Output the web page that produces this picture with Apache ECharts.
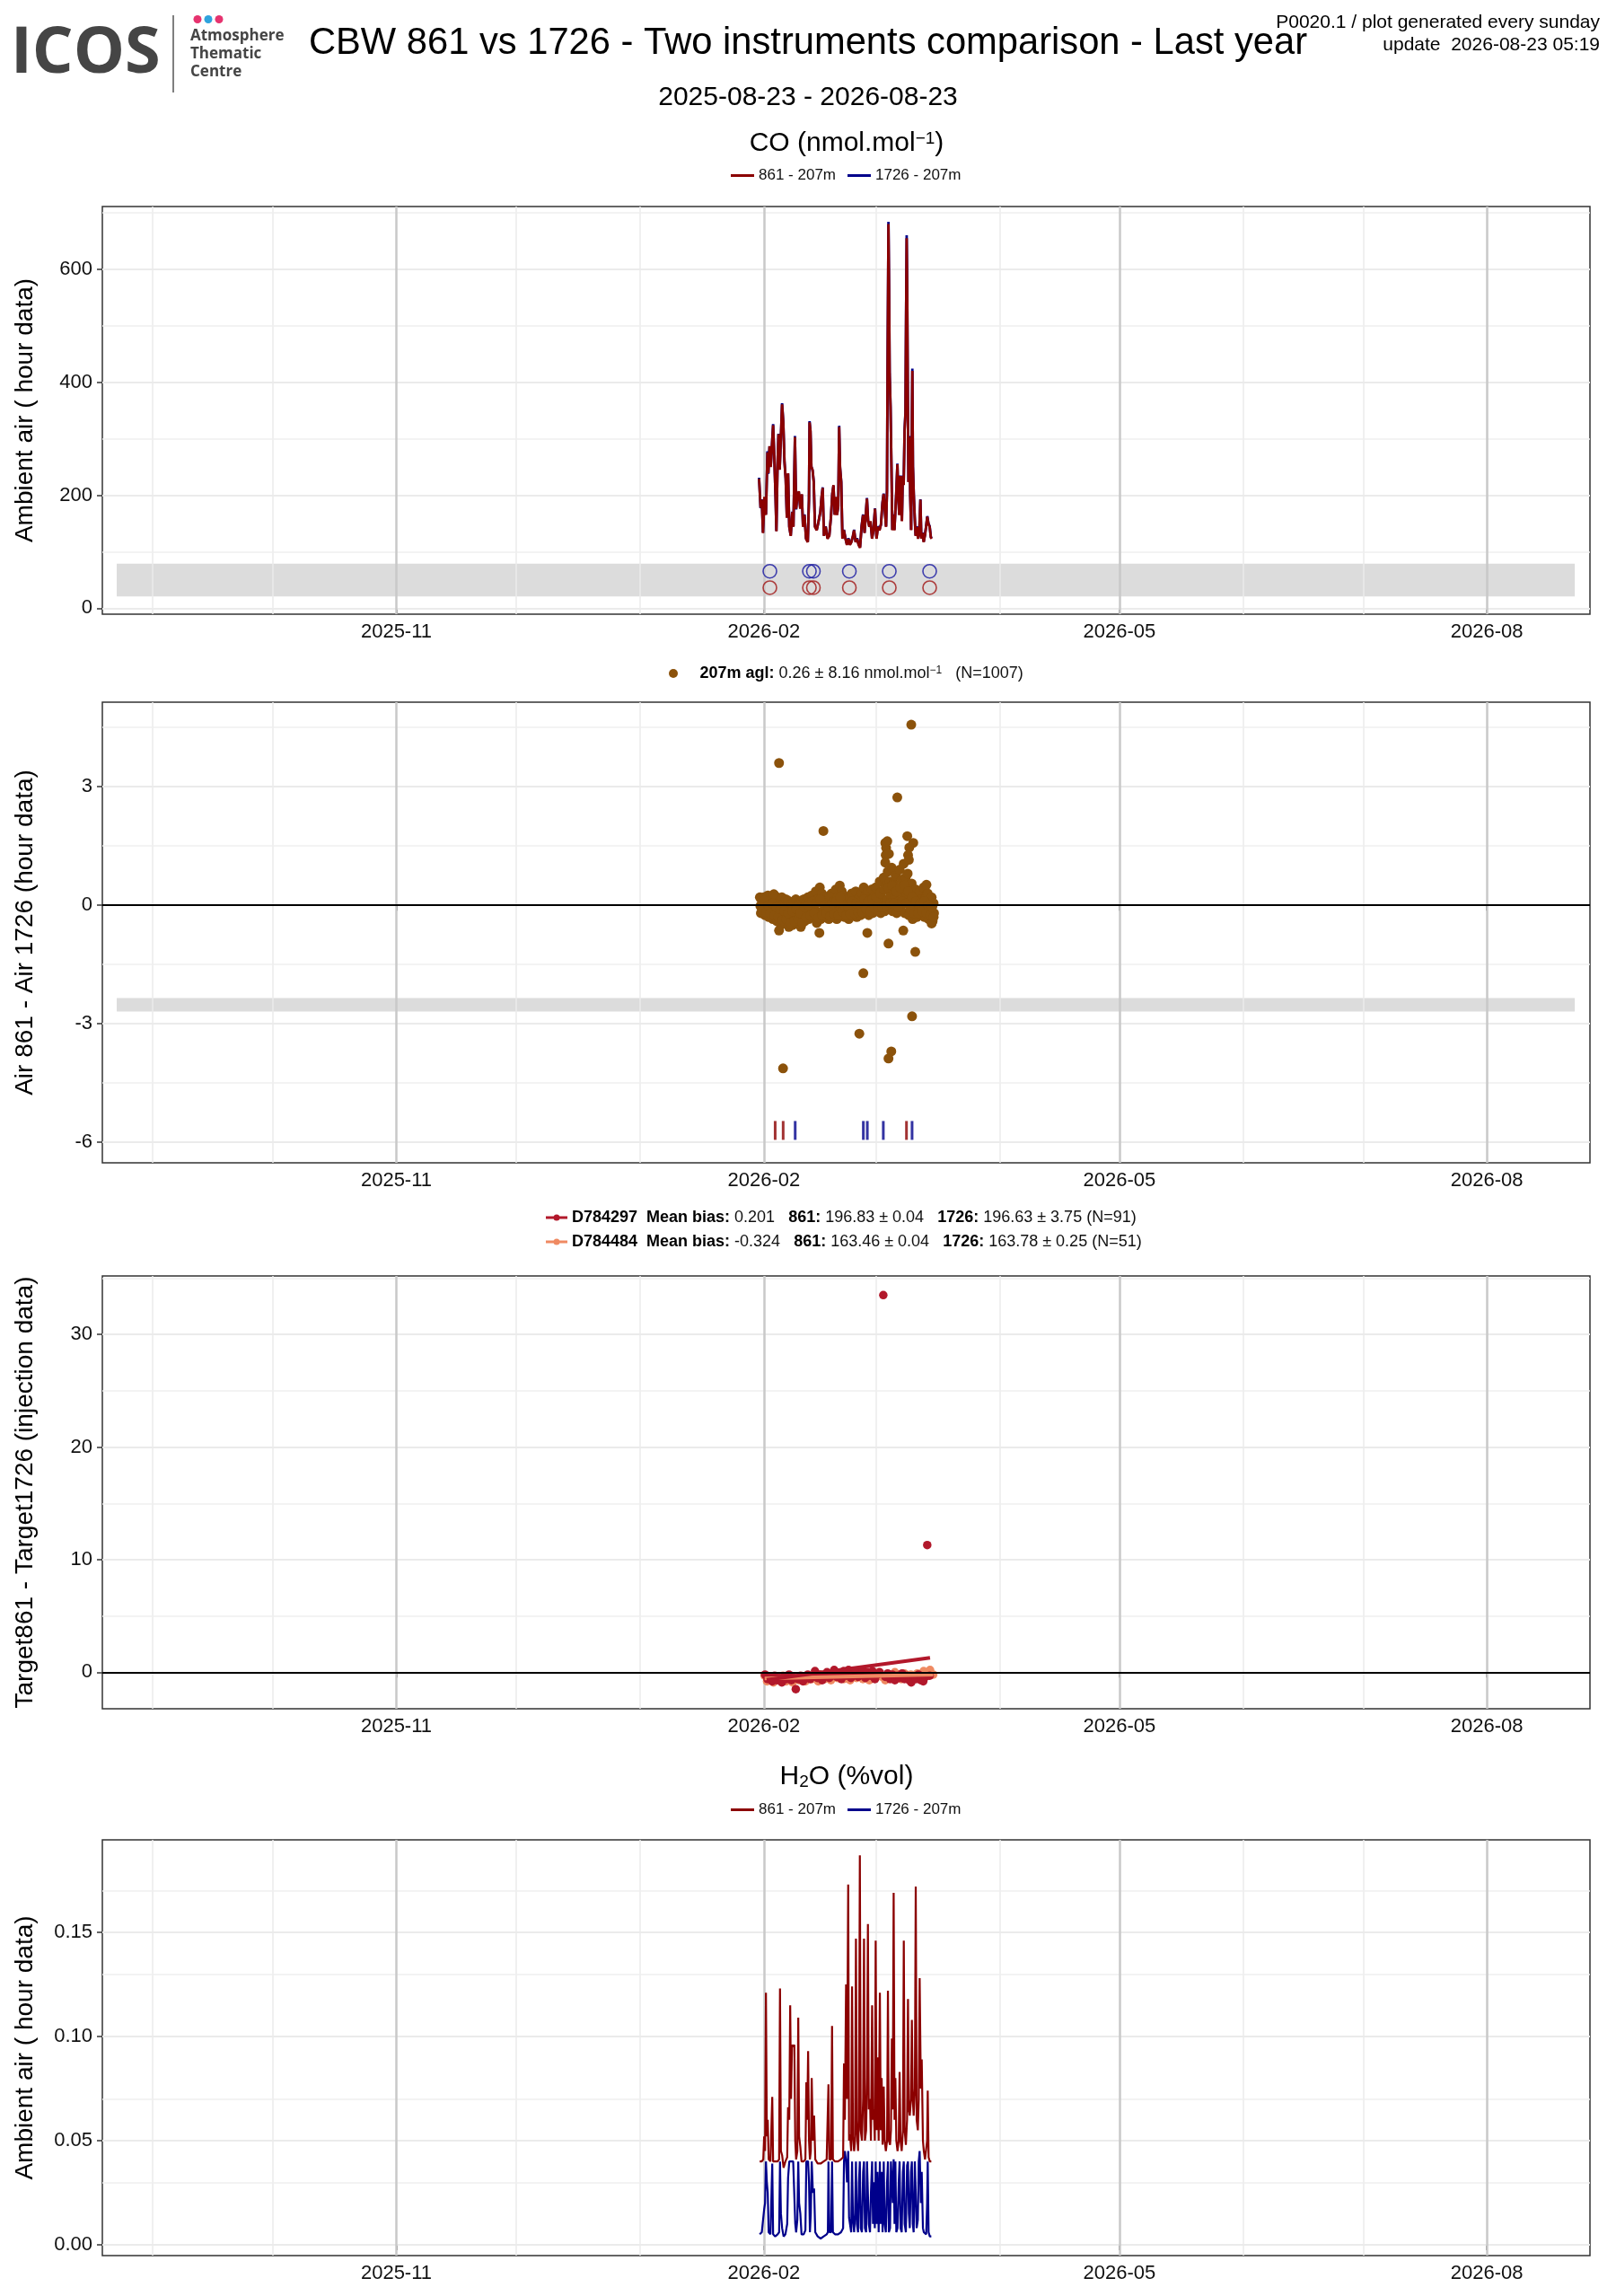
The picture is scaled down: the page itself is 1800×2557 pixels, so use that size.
<!DOCTYPE html>
<html>
<head>
<meta charset="utf-8">
<title>CBW 861 vs 1726 - Two instruments comparison</title>
<script src="https://cdn.jsdelivr.net/npm/echarts@6/dist/echarts.min.js"></script>
<style>
html, body { margin: 0; padding: 0; background: #fff; }
#chart { width: 1800px; height: 2557px; }
</style>
</head>
<body>
<div id="chart"></div>
<script>
var DAY = 86400000;
var T0 = Date.UTC(2026, 1, 1);          // day 0 of every "day" array below
function t(d) { return T0 + d * DAY; }

// x axis: major ticks every 3 months, minor grid every month
var majorBreaks = [Date.UTC(2025, 10, 1), Date.UTC(2026, 1, 1), Date.UTC(2026, 4, 1), Date.UTC(2026, 7, 1)];
var minorBreaks = [Date.UTC(2025, 8, 1), Date.UTC(2025, 9, 1), Date.UTC(2025, 11, 1), Date.UTC(2026, 0, 1),
                   Date.UTC(2026, 2, 1), Date.UTC(2026, 3, 1), Date.UTC(2026, 5, 1), Date.UTC(2026, 6, 1)];
var periodStart = Date.UTC(2025, 7, 23), periodEnd = Date.UTC(2026, 7, 23);
var xMin = t(-165.6), xMax = t(206.8);

var yRanges = [[-10.5, 711], [-6.52, 5.14], [-3.24, 35.2], [-0.0052, 0.1944]];
var yMajor = [[0, 200, 400, 600], [-6, -3, 0, 3], [0, 10, 20, 30], [0, 0.05, 0.10, 0.15]];
var yMinor = [[100, 300, 500, 700], [-4.5, -1.5, 1.5, 4.5], [5, 15, 25, 35], [0.025, 0.075, 0.125, 0.175]];
var yTitles = ['Ambient air ( hour data)', 'Air 861 - Air 1726 (hour data)',
               'Target861 - Target1726 (injection data)', 'Ambient air ( hour data)'];

// ---- CO ambient air, hour data (days since 2026-02-01) ----
var coDay = [
  -1.20,-0.82,-0.52,-0.22,0.15,0.52,0.90,1.12,1.42,1.72,
  2.02,2.32,2.62,2.92,3.14,3.44,3.66,3.96,4.26,4.56,
  4.86,5.16,5.46,5.76,6.06,6.36,6.73,7.11,7.40,7.78,
  8.08,8.38,8.75,9.12,9.50,9.80,10.17,10.55,11.00,11.29,
  11.44,11.67,11.89,12.19,12.49,12.79,13.24,13.69,14.14,14.44,
  14.73,15.03,15.48,15.93,16.38,16.83,17.13,17.43,17.73,18.03,
  18.32,18.62,18.85,19.07,19.37,19.67,20.04,20.42,20.79,21.17,
  21.54,21.91,22.29,22.59,22.96,23.34,23.71,24.08,24.46,24.83,
  25.21,25.50,25.80,26.10,26.40,26.70,27.08,27.45,27.82,28.20,
  28.57,28.95,29.32,29.69,29.99,30.29,30.59,30.82,30.96,31.19,
  31.34,31.49,31.71,31.94,32.16,32.46,32.68,32.91,33.13,33.43,
  33.66,33.88,34.11,34.33,34.56,34.78,35.00,35.23,35.45,35.60,
  35.75,35.90,36.05,36.20,36.42,36.65,36.87,37.02,37.17,37.32,
  37.55,37.77,37.99,38.29,38.59,38.89,39.19,39.42,39.72,40.01,
  40.31,40.61,40.91,41.21,41.51,41.81,42.03
];
var co861 = [
  229,178,192,133,197,165,276,239,287,250,
  287,324,266,197,136,260,308,245,303,361,
  329,260,229,160,239,144,128,170,144,303,
  176,197,207,176,202,144,165,123,117,192,
  329,314,250,245,223,144,138,154,170,197,
  213,128,144,123,128,165,202,218,165,197,
  165,181,321,250,223,123,138,123,112,123,
  112,117,128,138,117,123,112,107,144,165,
  133,165,194,154,144,154,123,138,176,123,
  144,138,149,186,202,205,144,207,414,680,
  568,414,356,250,138,165,138,170,202,255,
  197,165,234,186,154,234,218,314,345,515,
  655,542,356,223,303,197,138,303,420,250,
  197,160,128,144,123,133,192,123,133,117,
  128,144,162,149,144,125,123
];
var co1726 = [
  231,177,193,134,196,166,278,238,286,251,
  288,326,265,198,137,259,309,246,302,363,
  330,259,230,161,238,145,129,171,145,305,
  175,198,206,177,201,145,166,124,118,191,
  331,313,251,244,224,145,139,153,171,196,
  214,129,145,124,129,164,203,217,166,196,
  166,180,323,249,224,124,139,124,113,124,
  113,118,127,139,118,124,113,108,145,166,
  134,164,195,155,145,153,124,139,177,124,
  145,139,148,187,203,206,145,208,418,684,
  571,417,358,251,139,166,139,171,203,256,
  198,166,235,187,155,235,219,316,347,519,
  660,546,358,224,305,198,139,305,424,251,
  198,161,129,145,124,134,193,124,134,118,
  129,145,163,150,145,126,124
];
// flagged periods (open circles in the grey band)
var flagDay = [1.5, 11.4, 12.4, 21.4, 31.4, 41.5];
var flagLevel861 = 36.5, flagLevel1726 = 65.5;
var coBand = [21, 79];

// ---- Air 861 - Air 1726, hour data [day, diff] ----
var airDiff = [
  [-1.0,0.20],[-0.75,-0.20],[-0.5,0.05],[-0.25,-0.10],
  [0,0.20],[0.25,-0.25],[0.5,0.05],[0.75,-0.10],
  [1,0.25],[1.25,-0.30],[1.5,0.10],[1.75,-0.05],
  [2,0.15],[2.25,-0.35],[2.5,0.28],[2.75,-0.15],
  [3,0.22],[3.25,-0.40],[3.5,0.05],[3.75,-0.20],
  [4,0.10],[4.25,-0.50],[4.5,0.20],[4.75,-0.30],
  [5,0.05],[5.25,-0.45],[5.5,0.15],[5.75,-0.25],
  [6,0.12],[6.25,-0.55],[6.5,-0.05],[6.75,-0.35],
  [7,0.05],[7.25,-0.50],[7.5,0.10],[7.75,-0.30],
  [8,0.15],[8.25,-0.45],[8.5,0.00],[8.75,-0.25],
  [9,0.08],[9.25,-0.55],[9.5,0.12],[9.75,-0.35],
  [10,0.15],[10.25,-0.40],[10.5,0.05],[10.75,-0.20],
  [11,0.20],[11.25,-0.35],[11.5,0.10],[11.75,-0.15],
  [12,0.25],[12.25,-0.30],[12.5,0.05],[12.75,-0.10],
  [13,0.35],[13.25,-0.45],[13.5,0.15],[13.75,-0.20],
  [14,0.45],[14.25,-0.35],[14.5,0.30],[14.75,-0.15],
  [15,0.20],[15.25,-0.30],[15.5,0.10],[15.75,-0.05],
  [16,0.15],[16.25,-0.35],[16.5,0.25],[16.75,-0.20],
  [17,0.30],[17.25,-0.30],[17.5,0.10],[17.75,-0.10],
  [18,0.40],[18.25,-0.35],[18.5,0.20],[18.75,-0.15],
  [19,0.50],[19.25,-0.25],[19.5,0.35],[19.75,-0.05],
  [20,0.25],[20.25,-0.30],[20.5,0.10],[20.75,-0.15],
  [21,0.15],[21.25,-0.35],[21.5,0.20],[21.75,-0.10],
  [22,0.30],[22.25,-0.25],[22.5,0.05],[22.75,-0.15],
  [23,0.35],[23.25,-0.30],[23.5,0.15],[23.75,-0.05],
  [24,0.20],[24.25,-0.25],[24.5,0.30],[24.75,-0.10],
  [25,0.45],[25.25,-0.20],[25.5,0.25],[25.75,0.00],
  [26,0.35],[26.25,-0.25],[26.5,0.15],[26.75,-0.05],
  [27,0.40],[27.25,-0.20],[27.5,0.20],[27.75,0.05],
  [28,0.45],[28.25,-0.15],[28.5,0.30],[28.75,0.00],
  [29,0.60],[29.25,-0.20],[29.5,0.35],[29.75,0.10],
  [30,0.70],[30.25,-0.15],[30.5,0.50],[30.75,0.15],
  [31,0.85],[31.25,-0.10],[31.5,0.60],[31.75,0.25],
  [32,0.95],[32.25,-0.15],[32.5,0.55],[32.75,0.20],
  [33,0.75],[33.25,-0.20],[33.5,0.40],[33.75,0.10],
  [34,0.90],[34.25,-0.10],[34.5,0.65],[34.75,0.30],
  [35,1.05],[35.25,-0.20],[35.5,0.70],[35.75,0.25],
  [36,0.80],[36.25,-0.25],[36.5,0.45],[36.75,0.10],
  [37,0.55],[37.25,-0.35],[37.5,0.30],[37.75,-0.05],
  [38,0.40],[38.25,-0.30],[38.5,0.20],[38.75,-0.10],
  [39,0.35],[39.25,-0.25],[39.5,0.15],[39.75,0.00],
  [40,0.45],[40.25,-0.30],[40.5,0.20],[40.75,-0.10],
  [41,0.30],[41.25,-0.35],[41.5,0.10],[41.75,-0.15],
  [42,0.20],[42.25,-0.40],[42.5,0.05],[42.6,-0.20],
  // isolated hours
  [3.8,3.60],[4.8,-4.13],[3.8,-0.64],[13.9,-0.70],[14.9,1.88],[23.9,-3.25],
  [24.9,-1.72],[25.9,-0.70],[30.4,1.58],[30.6,1.45],[30.9,1.62],[30.5,1.27],
  [30.4,1.08],[31.3,1.30],[31.2,-0.97],[31.2,-3.88],[31.9,-3.70],[33.4,2.73],
  [34.9,-0.64],[35.9,1.75],[37.4,1.58],[36.4,1.46],[36.1,1.27],[36.3,1.15],
  [36.9,4.57],[37.1,-2.81],[37.9,-1.18],[42.0,-0.46],[40.7,0.52]
];
// the hours in between, filling the dense band
var airDiffMid = [
  [-0.875,-0.02],[-0.375,-0.12],[0.125,0.12],[0.625,-0.18],[1.125,0.00],[1.625,-0.20],[2.125,0.05],[2.625,-0.25],
  [3.125,-0.05],[3.625,-0.30],[4.125,-0.10],[4.625,-0.38],[5.125,-0.15],[5.625,-0.35],[6.125,-0.20],[6.625,-0.45],
  [7.125,-0.15],[7.625,-0.40],[8.125,-0.10],[8.625,-0.35],[9.125,-0.20],[9.625,-0.45],[10.125,-0.05],[10.625,-0.30],
  [11.125,0.00],[11.625,-0.25],[12.125,0.10],[12.625,-0.20],[13.125,0.05],[13.625,-0.32],[14.125,0.15],[14.625,-0.25],
  [15.125,0.00],[15.625,-0.20],[16.125,-0.05],[16.625,-0.28],[17.125,0.05],[17.625,-0.22],[18.125,0.10],[18.625,-0.25],
  [19.125,0.20],[19.625,-0.15],[20.125,0.00],[20.625,-0.25],[21.125,-0.05],[21.625,-0.22],[22.125,0.10],[22.625,-0.20],
  [23.125,0.05],[23.625,-0.18],[24.125,0.00],[24.625,-0.18],[25.125,0.15],[25.625,-0.10],[26.125,0.10],[26.625,-0.15],
  [27.125,0.15],[27.625,-0.08],[28.125,0.20],[28.625,-0.05],[29.125,0.30],[29.625,-0.05],[30.125,0.40],[30.625,0.00],
  [31.125,0.45],[31.625,0.05],[32.125,0.50],[32.625,0.05],[33.125,0.35],[33.625,-0.05],[34.125,0.45],[34.625,0.10],
  [35.125,0.50],[35.625,0.05],[36.125,0.35],[36.625,-0.10],[37.125,0.20],[37.625,-0.20],[38.125,0.10],[38.625,-0.20],
  [39.125,0.05],[39.625,-0.15],[40.125,0.10],[40.625,-0.20],[41.125,0.00],[41.625,-0.25],[42.125,-0.05],[42.5,-0.30]
];
var airBand = [-2.69, -2.35];
var rugDay861 = [2.83, 4.83, 35.7];
var rugDay1726 = [7.84, 24.9, 25.9, 29.9, 37.1];
var rugLevel = -5.7;

// ---- Target gases, injection data [day, diff] ----
var target297 = [
  [0.3,-0.2],[0.9,-0.6],[1.5,-0.4],[2.1,-0.8],[2.7,-0.3],[3.3,-0.7],[3.9,-0.5],[4.5,-0.9],[5.1,-0.4],[5.7,-0.6],
  [6.3,-0.2],[6.9,-0.7],[7.5,-0.5],[8.0,-1.5],[8.6,-0.6],[9.2,-0.3],[9.8,-0.8],[10.4,-0.5],[11.0,-0.2],[11.6,-0.6],
  [12.2,-0.4],[12.8,0.1],[13.4,-0.5],[14.0,-0.2],[14.6,-0.7],[15.2,-0.3],[15.8,0.0],[16.4,-0.5],[17.0,-0.2],[17.6,0.2],
  [18.2,-0.4],[18.8,-0.1],[19.4,-0.6],[20.0,0.1],[20.6,-0.3],[21.2,0.2],[21.8,-0.5],[22.4,-0.1],[23.0,0.1],[23.6,-0.4],
  [24.2,-0.2],[24.8,0.2],[25.4,-0.5],[26.0,0.0],[26.6,-0.3],[27.2,0.1],[27.8,-0.6],[28.4,-0.2],[29.0,0.0],[29.9,33.5],
  [30.4,-0.4],[31.0,-0.1],[31.6,-0.6],[32.2,-0.2],[32.8,-0.7],[33.4,-0.3],[34.0,-0.5],[34.6,-0.1],[35.2,-0.6],[35.8,-0.3],
  [36.4,-0.7],[36.9,-0.9],[37.5,-0.4],[38.1,-0.6],[38.7,-0.2],[39.3,-0.7],[39.9,-0.8],[40.5,-0.4],[40.9,11.3],[41.5,-0.3]
];
var target484 = [
  [0.2,-0.3],[0.8,-0.8],[1.6,-0.5],[2.4,-0.9],[3.2,-0.4],[4.0,-0.7],[4.8,-0.3],[5.6,-0.8],[6.4,-0.5],[7.2,-0.9],
  [8.0,-0.4],[8.8,-0.7],[9.6,-0.5],[10.4,-0.8],[11.2,-0.3],[12.0,-0.6],[12.8,-0.4],[13.6,-0.8],[14.4,-0.2],[15.2,-0.6],
  [16.0,-0.3],[16.8,-0.7],[17.6,-0.2],[18.4,-0.5],[19.2,-0.1],[20.0,-0.6],[20.8,-0.3],[21.6,-0.7],[22.4,-0.2],[23.2,-0.5],
  [24.0,-0.1],[24.8,-0.6],[25.6,-0.3],[26.4,-0.7],[27.2,-0.2],[28.0,-0.5],[28.8,0.0],[29.6,-0.4],[30.4,-0.7],[31.2,-0.2],
  [32.0,-0.5],[32.8,0.0],[33.6,-0.4],[34.4,-0.6],[35.2,-0.1],[36.0,-0.5],[36.8,-0.2],[37.6,-0.6],[38.4,-0.1],[39.2,-0.4],
  [40.0,0.1],[40.8,-0.3],[41.6,0.2],[42.4,-0.2]
];
var fit297 = [[0.7, -0.67], [41.6, 1.28]];
var fit484 = [[0.2, -0.55], [42.4, -0.2]];
var targetNames = ['D784297', 'D784484'];
var targetBias = ['0.201', '-0.324'];
var target861Stat = ['196.83 \u00b1 0.04', '163.46 \u00b1 0.04'];
var target1726Stat = ['196.63 \u00b1 3.75', '163.78 \u00b1 0.25'];
var targetN = [91, 51];

// ---- H2O ambient air, hour data ----
var h2oDay = [
  -1.05,-0.52,-0.15,0.07,0.30,0.52,0.75,0.97,1.20,1.65,
  2.10,2.32,2.84,3.44,3.82,4.04,4.27,4.57,4.94,5.39,
  5.84,6.06,6.36,6.59,6.81,7.04,7.34,7.63,7.86,8.08,
  8.38,8.61,8.83,9.13,9.43,9.96,10.40,10.63,10.85,11.08,
  11.30,11.53,11.75,11.98,12.28,12.57,12.87,13.47,14.22,14.97,
  15.72,16.02,16.17,16.39,16.84,17.07,17.29,17.81,18.56,19.31,
  19.84,20.06,20.28,20.58,20.81,21.11,21.33,21.56,21.86,22.08,
  22.31,22.60,22.83,23.05,23.28,23.58,23.80,24.03,24.25,24.55,
  24.85,25.07,25.30,25.60,25.82,26.05,26.27,26.57,26.80,27.10,
  27.32,27.54,27.77,27.99,28.22,28.44,28.74,29.04,29.27,29.49,
  29.72,30.01,30.24,30.54,30.84,31.06,31.29,31.59,31.81,32.04,
  32.26,32.49,32.71,32.93,33.16,33.46,33.76,33.98,34.21,34.51,
  34.81,35.03,35.25,35.55,35.85,36.08,36.30,36.53,36.83,37.05,
  37.28,37.50,37.80,38.02,38.25,38.55,38.77,39.00,39.30,39.52,
  39.82,40.04,40.34,40.64,40.87,41.02,41.24,41.54,41.92
];
var h2o861 = [
  .040,.040,.041,.052,.045,.121,.052,.060,.041,.040,
  .071,.040,.040,.040,.041,.123,.045,.043,.037,.040,
  .042,.066,.060,.115,.070,.096,.095,.096,.050,.041,
  .045,.109,.052,.047,.040,.040,.041,.078,.060,.093,
  .050,.041,.045,.080,.050,.062,.041,.039,.039,.040,
  .041,.041,.077,.041,.041,.105,.041,.040,.040,.041,
  .042,.087,.060,.125,.070,.173,.050,.053,.045,.124,
  .052,.045,.050,.147,.055,.045,.060,.187,.055,.050,
  .070,.147,.050,.055,.080,.154,.065,.070,.050,.115,
  .060,.065,.050,.146,.055,.090,.050,.121,.055,.080,
  .048,.076,.050,.045,.050,.122,.050,.048,.055,.099,
  .065,.169,.060,.080,.050,.045,.050,.083,.050,.045,
  .055,.146,.055,.048,.060,.118,.065,.062,.070,.108,
  .070,.062,.075,.172,.060,.055,.070,.128,.075,.089,
  .050,.045,.041,.041,.050,.074,.042,.040,.040
];
var h2o1726 = [
  .005,.006,.006,.017,.020,.040,.030,.025,.006,.005,
  .039,.005,.004,.005,.006,.040,.015,.008,.004,.005,
  .010,.032,.040,.040,.040,.040,.040,.040,.010,.006,
  .012,.040,.020,.015,.005,.005,.007,.040,.040,.040,
  .030,.006,.015,.040,.025,.027,.006,.004,.003,.004,
  .005,.006,.040,.006,.006,.040,.006,.005,.005,.006,
  .008,.040,.045,.040,.030,.045,.013,.010,.006,.040,
  .012,.006,.015,.040,.010,.006,.030,.040,.008,.006,
  .035,.040,.008,.006,.040,.040,.010,.006,.025,.040,
  .010,.030,.008,.040,.010,.035,.006,.040,.010,.035,
  .006,.040,.010,.006,.030,.040,.006,.008,.040,.040,
  .020,.041,.010,.040,.006,.008,.030,.040,.008,.006,
  .035,.040,.010,.006,.038,.040,.015,.008,.035,.040,
  .010,.006,.040,.040,.008,.012,.040,.045,.020,.035,
  .008,.006,.006,.005,.020,.040,.006,.004,.004
];

var FONT = 'Liberation Sans';
var RED = '#8B0000', BLUE = '#00008B', BROWN = '#8B520B', CRIMSON = '#B2182B', SALMON = '#EF8A62';
var grids = [
  { left: 114, top: 230, width: 1657, height: 454 },
  { left: 114, top: 782, width: 1657, height: 513 },
  { left: 114, top: 1421, width: 1657, height: 482 },
  { left: 114, top: 2049, width: 1657, height: 463 }
];

function pad2(n) { return n < 10 ? '0' + n : '' + n; }

function gridLines(i) {
  var lines = [];
  minorBreaks.forEach(function (v) { lines.push({ xAxis: v, lineStyle: { color: '#EBEBEB', width: 1.5, type: 'solid' } }); });
  yMinor[i].forEach(function (v) { lines.push({ yAxis: v, lineStyle: { color: '#EFEFEF', width: 1.5, type: 'solid' } }); });
  yMajor[i].forEach(function (v) { lines.push({ yAxis: v, lineStyle: { color: '#EBEBEB', width: 2, type: 'solid' } }); });
  majorBreaks.forEach(function (v) { lines.push({ xAxis: v, lineStyle: { color: '#C9C9C9', width: 2.5, type: 'solid' } }); });
  return {
    type: 'line', name: '_grid' + i, xAxisIndex: i, yAxisIndex: i, data: [[xMin, null]],
    symbol: 'none', silent: true, z: 2,
    markLine: { z: 2, silent: true, symbol: ['none', 'none'], label: { show: false }, animation: false, data: lines }
  };
}
function bandSeries(i, lo, hi) {
  return {
    type: 'line', name: '_band' + i, xAxisIndex: i, yAxisIndex: i, data: [[xMin, null]],
    symbol: 'none', silent: true, z: 1,
    markArea: { z: 1, silent: true, itemStyle: { color: '#DCDCDC' }, label: { show: false },
      data: [[{ xAxis: periodStart, yAxis: lo }, { xAxis: periodEnd, yAxis: hi }]] }
  };
}
function zeroLine(i) {
  return {
    type: 'line', name: '_zero' + i, xAxisIndex: i, yAxisIndex: i, data: [[xMin, null]],
    symbol: 'none', silent: true, z: 30,
    markLine: { z: 30, silent: true, symbol: ['none', 'none'], label: { show: false }, animation: false,
      data: [{ yAxis: 0, lineStyle: { color: '#000', width: 2, type: 'solid' } }] }
  };
}

// value axes holding UTC timestamps, so the month ticks can be placed exactly
var xAxes = grids.map(function (g, i) {
  return {
    type: 'value', gridIndex: i, min: xMin, max: xMax, scale: true,
    axisLine: { show: false },
    axisTick: { show: true, customValues: majorBreaks, length: 6, lineStyle: { color: '#333', width: 1.5 } },
    axisLabel: {
      customValues: majorBreaks, fontSize: 22, color: '#111', fontFamily: FONT, margin: 9,
      formatter: function (v) { var d = new Date(v); return d.getUTCFullYear() + '-' + pad2(d.getUTCMonth() + 1); }
    },
    splitLine: { show: false }
  };
});
var yAxes = grids.map(function (g, i) {
  return {
    type: 'value', gridIndex: i, min: yRanges[i][0], max: yRanges[i][1],
    name: yTitles[i], nameLocation: 'middle', nameRotate: 90, nameGap: 72,
    nameTextStyle: { fontSize: 28, color: '#000', fontFamily: FONT },
    axisLine: { show: false },
    axisTick: { show: true, customValues: yMajor[i], length: 6, lineStyle: { color: '#333', width: 1.5 } },
    axisLabel: {
      customValues: yMajor[i], fontSize: 22, color: '#111', fontFamily: FONT, margin: 11,
      formatter: function (v) { return i === 3 ? v.toFixed(2) : String(v); }
    },
    splitLine: { show: false }
  };
});

var series = [];
grids.forEach(function (g, i) { series.push(gridLines(i)); });
series.push(bandSeries(0, coBand[0], coBand[1]));
series.push(bandSeries(1, airBand[0], airBand[1]));
series.push(zeroLine(1));
series.push(zeroLine(2));

// panel 1: CO
series.push({
  name: '1726 - 207m', type: 'line', xAxisIndex: 0, yAxisIndex: 0, z: 10, symbol: 'none',
  data: coDay.map(function (d, k) { return [t(d), co1726[k]]; }),
  lineStyle: { color: BLUE, width: 2.8 }, itemStyle: { color: BLUE }
});
series.push({
  name: '861 - 207m', type: 'line', xAxisIndex: 0, yAxisIndex: 0, z: 11, symbol: 'none',
  data: coDay.map(function (d, k) { return [t(d), co861[k]]; }),
  lineStyle: { color: RED, width: 2.8 }, itemStyle: { color: RED }
});
series.push({
  name: '_flag1726', type: 'scatter', xAxisIndex: 0, yAxisIndex: 0, z: 12, symbol: 'circle', symbolSize: 15,
  data: flagDay.map(function (d) { return [t(d), flagLevel1726]; }),
  itemStyle: { color: 'rgba(0,0,0,0)', borderColor: '#1515A0', borderWidth: 1.6 }
});
series.push({
  name: '_flag861', type: 'scatter', xAxisIndex: 0, yAxisIndex: 0, z: 12, symbol: 'circle', symbolSize: 15,
  data: flagDay.map(function (d) { return [t(d), flagLevel861]; }),
  itemStyle: { color: 'rgba(0,0,0,0)', borderColor: '#A01515', borderWidth: 1.6 }
});

// panel 2: air difference
series.push({
  name: '207m agl', type: 'scatter', xAxisIndex: 1, yAxisIndex: 1, z: 10, symbolSize: 11,
  data: airDiff.concat(airDiffMid).map(function (p) { return [t(p[0]), p[1]]; }),
  itemStyle: { color: BROWN, opacity: 1 }
});
series.push({
  name: '_rug861', type: 'scatter', xAxisIndex: 1, yAxisIndex: 1, z: 11, symbol: 'rect', symbolSize: [3, 21],
  data: rugDay861.map(function (d) { return [t(d), rugLevel]; }), itemStyle: { color: RED }
});
series.push({
  name: '_rug1726', type: 'scatter', xAxisIndex: 1, yAxisIndex: 1, z: 11, symbol: 'rect', symbolSize: [3, 21],
  data: rugDay1726.map(function (d) { return [t(d), rugLevel]; }), itemStyle: { color: BLUE }
});

// panel 3: targets
series.push({
  name: 'D784484', type: 'scatter', xAxisIndex: 2, yAxisIndex: 2, z: 10, symbolSize: 9.5,
  data: target484.map(function (p) { return [t(p[0]), p[1]]; }), itemStyle: { color: SALMON, opacity: 1 }
});
series.push({
  name: 'D784297', type: 'scatter', xAxisIndex: 2, yAxisIndex: 2, z: 11, symbolSize: 9.5,
  data: target297.map(function (p) { return [t(p[0]), p[1]]; }), itemStyle: { color: CRIMSON, opacity: 1 }
});
series.push({
  name: 'D784484', type: 'line', xAxisIndex: 2, yAxisIndex: 2, z: 12, symbol: 'none',
  data: fit484.map(function (p) { return [t(p[0]), p[1]]; }),
  lineStyle: { color: SALMON, width: 4 }, itemStyle: { color: SALMON }
});
series.push({
  name: 'D784297', type: 'line', xAxisIndex: 2, yAxisIndex: 2, z: 13, symbol: 'none',
  data: fit297.map(function (p) { return [t(p[0]), p[1]]; }),
  lineStyle: { color: CRIMSON, width: 4 }, itemStyle: { color: CRIMSON }
});

// panel 4: H2O
series.push({
  name: '1726 - 207m', type: 'line', xAxisIndex: 3, yAxisIndex: 3, z: 10, symbol: 'none',
  data: h2oDay.map(function (d, k) { return [t(d), h2o1726[k]]; }),
  lineStyle: { color: BLUE, width: 2.2 }, itemStyle: { color: BLUE }
});
series.push({
  name: '861 - 207m', type: 'line', xAxisIndex: 3, yAxisIndex: 3, z: 11, symbol: 'none',
  data: h2oDay.map(function (d, k) { return [t(d), h2o861[k]]; }),
  lineStyle: { color: RED, width: 2.2 }, itemStyle: { color: RED }
});

var targetLegend = {};
targetNames.forEach(function (n, k) {
  targetLegend[n] = '{b|' + n + '}  {b|Mean bias:} ' + targetBias[k] + '   {b|861:} ' + target861Stat[k] +
    '   {b|1726:} ' + target1726Stat[k] + ' (N=' + targetN[k] + ')';
});

var lineLegend = function (top) {
  return {
    data: ['861 - 207m', '1726 - 207m'], left: 809, top: top, icon: 'rect', itemWidth: 26, itemHeight: 3,
    itemGap: 13, selectedMode: false, textStyle: { fontSize: 17, color: '#111', fontFamily: FONT }
  };
};

var headerText = function (text, x, y, size, align, extra) {
  var st = { text: text, font: size + 'px "' + FONT + '"', fill: '#000',
    align: align, textAlign: align, verticalAlign: 'middle', textVerticalAlign: 'middle' };
  if (extra) { for (var k in extra) st[k] = extra[k]; }
  return { type: 'text', x: x, y: y, style: st, silent: true };
};

var chart = echarts.init(document.getElementById('chart'), null, { renderer: 'canvas' });
chart.setOption({
  animation: false,
  backgroundColor: '#fff',
  textStyle: { fontFamily: FONT },
  grid: grids.map(function (g) {
    return { left: g.left, top: g.top, width: g.width, height: g.height, show: true,
      borderColor: '#333', borderWidth: 1.5, backgroundColor: 'transparent' };
  }),
  xAxis: xAxes,
  yAxis: yAxes,
  legend: [
    lineLegend(182),
    {
      data: ['207m agl'], left: 740, top: 736, icon: 'circle', itemWidth: 49, itemHeight: 10, selectedMode: false,
      formatter: function () { return '{b|207m agl:} 0.26 \u00b1 8.16 nmol.mol{sup|\u22121}   (N=1007)'; },
      textStyle: { fontSize: 18, color: '#111', fontFamily: FONT,
        rich: { b: { fontWeight: 'bold', fontSize: 18, fontFamily: FONT, color: '#000' },
                sup: { fontSize: 12, verticalAlign: 'top', fontFamily: FONT } } }
    },
    {
      data: targetNames, left: 603, top: 1342, orient: 'vertical', itemGap: 9, selectedMode: false,
      icon: 'path://M0,3.5H24V6.5H0Z M8.5,5A3.5,3.5 0 1,1 15.5,5A3.5,3.5 0 1,1 8.5,5Z',
      itemWidth: 24, itemHeight: 10,
      formatter: function (name) { return targetLegend[name]; },
      textStyle: { fontSize: 18, color: '#111', fontFamily: FONT,
        rich: { b: { fontWeight: 'bold', fontSize: 18, fontFamily: FONT, color: '#000' } } }
    },
    lineLegend(2002)
  ],
  graphic: [
    // ICOS logo
    headerText('ICOS', 12, 60, 72, 'left', { font: 'bold 72px "Open Sans"', fill: '#454545' }),
    { type: 'line', shape: { x1: 193, y1: 17, x2: 193, y2: 103 }, style: { stroke: '#555', lineWidth: 1.5 }, silent: true },
    { type: 'circle', shape: { cx: 220, cy: 21.5, r: 4.5 }, style: { fill: '#E6336F' }, silent: true },
    { type: 'circle', shape: { cx: 232, cy: 21.5, r: 4.5 }, style: { fill: '#2FA3DD' }, silent: true },
    { type: 'circle', shape: { cx: 244, cy: 21.5, r: 4.5 }, style: { fill: '#E6336F' }, silent: true },
    headerText('Atmosphere', 212, 40, 17, 'left', { font: 'bold 17px "Open Sans"', fill: '#454545' }),
    headerText('Thematic', 212, 60, 17, 'left', { font: 'bold 17px "Open Sans"', fill: '#454545' }),
    headerText('Centre', 212, 80, 17, 'left', { font: 'bold 17px "Open Sans"', fill: '#454545' }),
    // titles
    headerText('CBW 861 vs 1726 - Two instruments comparison - Last year', 900, 49, 41.7, 'center'),
    headerText('2025-08-23 - 2026-08-23', 900, 109, 30, 'center'),
    headerText('P0020.1 / plot generated every sunday', 1782, 25, 21, 'right'),
    headerText('update  2026-08-23 05:19', 1782, 50, 21, 'right'),
    headerText('CO (nmol.mol{sup|\u22121})', 943, 160, 30, 'center',
      { rich: { sup: { fontSize: 19, verticalAlign: 'top', fontFamily: FONT, fill: '#000' } } }),
    headerText('H{sub|2}O (%vol)', 943, 1979, 30, 'center',
      { rich: { sub: { fontSize: 19, verticalAlign: 'bottom', fontFamily: FONT, fill: '#000' } } })
  ],
  series: series
});
window.addEventListener('resize', function () { chart.resize(); });
</script>
</body>
</html>
